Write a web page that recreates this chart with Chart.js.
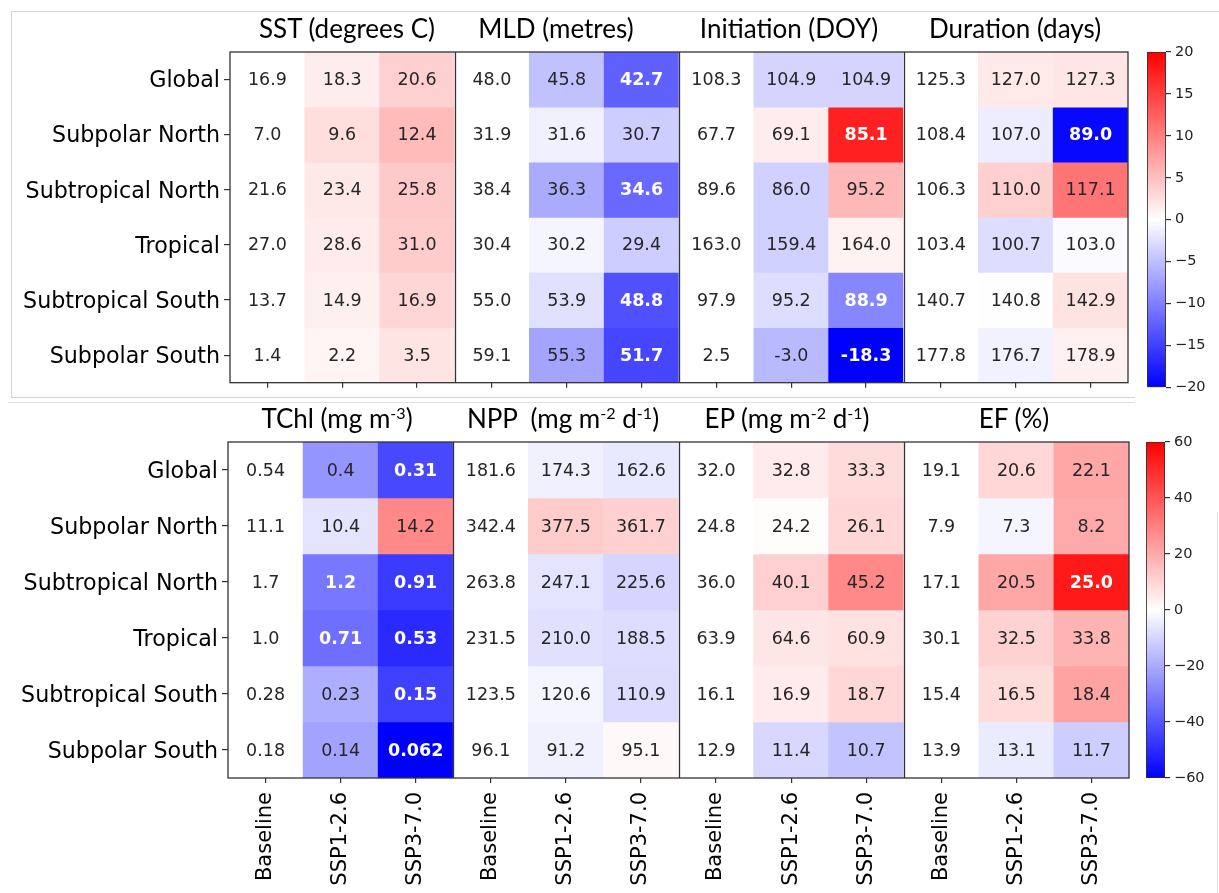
<!DOCTYPE html>
<html>
<head>
<meta charset="utf-8">
<script src="https://cdn.jsdelivr.net/npm/chart.js@4.4.1/dist/chart.umd.min.js"></script>
<style>
  body { margin: 0; background: #fff; width: 1219px; height: 893px; position: relative; overflow: hidden; }
  .box { position: absolute; }
  .title { position: absolute; font-family: Lato, "Open Sans", sans-serif; font-size: 26px; line-height: 30px; color: #000; transform: translateX(-50%); white-space: nowrap; }
  .title sup { font-size: 62%; line-height: 0; vertical-align: 0.55em; }
  .line { position: absolute; background: #d4d4d4; }
</style>
</head>
<body>
<div class="line" style="left:11px;top:11px;width:1208px;height:1px"></div>
<div class="line" style="left:11px;top:11px;width:1px;height:386px"></div>
<div class="line" style="left:11px;top:397px;width:1124px;height:1px"></div>
<div class="line" style="left:8px;top:402px;width:1127px;height:1px;background:#e0e0e0"></div>
<div class="line" style="left:1217px;top:512px;width:1px;height:381px;background:#e0e0e0"></div>

<div class="box" style="left:0;top:0;width:1140px;height:400px"><canvas id="top"></canvas></div>
<div class="box" style="left:1140px;top:0;width:79px;height:400px"><canvas id="topBar"></canvas></div>
<div class="box" style="left:0;top:390px;width:1140px;height:503px"><canvas id="bottom"></canvas></div>
<div class="box" style="left:1140px;top:390px;width:79px;height:503px"><canvas id="bottomBar"></canvas></div>

<div id="titles"></div>

<script>
const regions = ['Global', 'Subpolar North', 'Subtropical North', 'Tropical', 'Subtropical South', 'Subpolar South'];
const scenarios = ['Baseline', 'SSP1-2.6', 'SSP3-7.0'];

// top panel: values shown in the cells
const sst  = [[16.9, 18.3, 20.6], [7.0, 9.6, 12.4], [21.6, 23.4, 25.8], [27.0, 28.6, 31.0], [13.7, 14.9, 16.9], [1.4, 2.2, 3.5]];
const mld  = [[48.0, 45.8, 42.7], [31.9, 31.6, 30.7], [38.4, 36.3, 34.6], [30.4, 30.2, 29.4], [55.0, 53.9, 48.8], [59.1, 55.3, 51.7]];
const init = [[108.3, 104.9, 104.9], [67.7, 69.1, 85.1], [89.6, 86.0, 95.2], [163.0, 159.4, 164.0], [97.9, 95.2, 88.9], [2.5, -3.0, -18.3]];
const dur  = [[125.3, 127.0, 127.3], [108.4, 107.0, 89.0], [106.3, 110.0, 117.1], [103.4, 100.7, 103.0], [140.7, 140.8, 142.9], [177.8, 176.7, 178.9]];

// top panel: change from baseline (colour scale -20..20)
const sstChange  = [[0, 1.4, 3.7], [0, 2.6, 5.4], [0, 1.8, 4.2], [0, 1.6, 4.0], [0, 1.2, 3.2], [0, 0.8, 2.1]];
const mldChange  = [[0, -4.9, -12.5], [0, -1.2, -3.9], [0, -6.7, -11.8], [0, -0.8, -3.9], [0, -2.4, -13.7], [0, -7.1, -14.5]];
const initChange = [[0, -3.4, -3.4], [0, 1.4, 17.4], [0, -3.6, 5.6], [0, -3.6, 1.0], [0, -2.7, -9.5], [0, -5.5, -20.8]];
const durChange  = [[0, 1.7, 2.0], [0, -1.4, -19.4], [0, 3.7, 10.8], [0, -2.7, -0.4], [0, 0.1, 2.2], [0, -1.1, 1.1]];

// bottom panel: values shown in the cells
const tchl = [[0.54, 0.4, 0.31], [11.1, 10.4, 14.2], [1.7, 1.2, 0.91], [1.0, 0.71, 0.53], [0.28, 0.23, 0.15], [0.18, 0.14, 0.062]];
const npp  = [[181.6, 174.3, 162.6], [342.4, 377.5, 361.7], [263.8, 247.1, 225.6], [231.5, 210.0, 188.5], [123.5, 120.6, 110.9], [96.1, 91.2, 95.1]];
const ep   = [[32.0, 32.8, 33.3], [24.8, 24.2, 26.1], [36.0, 40.1, 45.2], [63.9, 64.6, 60.9], [16.1, 16.9, 18.7], [12.9, 11.4, 10.7]];
const ef   = [[19.1, 20.6, 22.1], [7.9, 7.3, 8.2], [17.1, 20.5, 25.0], [30.1, 32.5, 33.8], [15.4, 16.5, 18.4], [13.9, 13.1, 11.7]];

// bottom panel: % change from baseline (colour scale -60..60)
const tchlChange = [[0, -25, -43], [0, -6.4, 28], [0, -32, -46], [0, -34, -50], [0, -19, -45], [0, -22, -62]];
const nppChange  = [[0, -3.5, -5.5], [0, 12, 11], [0, -6.4, -10], [0, -7, -8], [0, -2.4, -8.2], [0, -3.5, 1.6]];
const epChange   = [[0, 4.7, 8.2], [0, 0.7, 9.4], [0, 11, 28], [0, 5.9, 7], [0, 4.7, 9.4], [0, -9.4, -14]];
const efChange   = [[0, 9.4, 21], [0, -2.4, 20], [0, 21, 54], [0, 10.6, 17.6], [0, 8.2, 22], [0, -4.7, -11.8]];

const topTitles = ['SST (degrees C)', 'MLD (metres)', 'Initiation (DOY)', 'Duration (days)'];
const bottomTitles = ['TChl (mg m<sup>-3</sup>)', 'NPP&nbsp; (mg m<sup>-2</sup> d<sup>-1</sup>)', 'EP (mg m<sup>-2</sup> d<sup>-1</sup>)', 'EF (%)'];

const oneDp = v => v.toFixed(1);
const chlFmt = v => v >= 1 ? v.toFixed(1) : String(v);

// blue-white-red, like matplotlib 'bwr'
function bwr(v, lim) {
    let t = Math.max(-1, Math.min(1, v / lim));
    if (t < 0) {
        let c = Math.round(255 * (1 + t));
        return [c, c, 255];
    }
    let c = Math.round(255 * (1 - t));
    return [255, c, c];
}

function luminance(rgb) {
    let lin = (x) => { x /= 255; return x <= 0.03928 ? x / 12.92 : Math.pow((x + 0.055) / 1.055, 2.4); };
    return 0.2126 * lin(rgb[0]) + 0.7152 * lin(rgb[1]) + 0.0722 * lin(rgb[2]);
}

const cellPlugin = {
    id: 'cells',
    afterDatasetsDraw(chart) {
        let { ctx, chartArea: a, scales: { x } } = chart;
        ctx.save();
        ctx.textAlign = 'center';
        ctx.textBaseline = 'middle';
        chart.data.datasets.forEach((ds, d) => {
            chart.getDatasetMeta(d).data.forEach((bar, i) => {
                let p = bar.getProps(['x', 'y', 'base'], true);
                let strong = luminance(ds.rgb[i]) < 0.32;
                ctx.font = (strong ? 'bold ' : '') + '17.5px "DejaVu Sans"';
                ctx.fillStyle = strong ? '#fff' : '#262626';
                ctx.fillText(ds.texts[i], p.x, (p.y + p.base) / 2 + 1);
            });
        });
        // lines between variable groups + frame
        ctx.strokeStyle = '#333';
        ctx.lineWidth = 1.3;
        for (let k = 3; k < chart.data.labels.length; k += 3) {
            let xs = Math.round((x.getPixelForValue(k - 1) + x.getPixelForValue(k)) / 2) + 0.5;
            ctx.beginPath();
            ctx.moveTo(xs, a.top);
            ctx.lineTo(xs, a.bottom);
            ctx.stroke();
        }
        ctx.strokeRect(a.left, a.top, a.width, a.height);
        ctx.restore();
    }
};

function heatmap(id, vars, changes, fmts, lim, o) {
    let labels = vars.flatMap(() => scenarios);
    let datasets = regions.map((name, r) => {
        let vals = vars.flatMap((v) => v[r]);
        let texts = vars.flatMap((v, k) => v[r].map(fmts[k]));
        let rgb = changes.flatMap((c) => c[r]).map((v) => bwr(v, lim));
        return {
            label: name,
            data: vals.map(() => [r, r + 1]),
            texts: texts,
            rgb: rgb,
            backgroundColor: rgb.map((c) => `rgb(${c[0]}, ${c[1]}, ${c[2]})`),
            borderWidth: 0,
            barPercentage: 1,
            categoryPercentage: 1,
            grouped: false
        };
    });
    return new Chart(document.getElementById(id), {
        type: 'bar',
        data: { labels: labels, datasets: datasets },
        options: {
            responsive: true,
            maintainAspectRatio: false,
            animation: false,
            layout: { padding: { top: 52, right: o.padRight, left: 0, bottom: 0 } },
            plugins: { legend: { display: false }, tooltip: { enabled: false } },
            scales: {
                x: {
                    grid: { display: true, offset: false, drawOnChartArea: false, drawTicks: true, tickLength: 5, color: '#333', lineWidth: 1.2 },
                    border: { display: false },
                    ticks: { display: o.showX, autoSkip: false, minRotation: 90, maxRotation: 90, padding: 9, color: '#000', font: { family: 'DejaVu Sans', size: 21 } },
                    afterFit: (s) => { s.height = o.xHeight; }
                },
                y: {
                    min: 0,
                    max: regions.length,
                    reverse: true,
                    afterBuildTicks: (s) => { s.ticks = regions.map((_, i) => ({ value: i + 0.5 })); },
                    grid: { display: true, drawOnChartArea: false, drawTicks: true, tickLength: 6, color: '#333', lineWidth: 1.2 },
                    border: { display: false },
                    ticks: { autoSkip: false, padding: 4, labelOffset: 2, color: '#000', font: { family: 'DejaVu Sans', size: 22.2 }, callback: (v) => regions[Math.floor(v)] },
                    afterFit: (s) => { s.width = o.yWidth; }
                }
            }
        },
        plugins: [cellPlugin]
    });
}

function colorbar(id, lim, step, o) {
    return new Chart(document.getElementById(id), {
        type: 'bar',
        data: {
            labels: [''],
            datasets: [{
                data: [[-lim, lim]],
                backgroundColor: (c) => {
                    let chart = c.chart;
                    if (!chart.chartArea) return 'transparent';
                    let y = chart.scales.y;
                    let g = chart.ctx.createLinearGradient(0, y.getPixelForValue(-lim), 0, y.getPixelForValue(lim));
                    g.addColorStop(0, 'rgb(0, 0, 255)');
                    g.addColorStop(0.5, 'rgb(255, 255, 255)');
                    g.addColorStop(1, 'rgb(255, 0, 0)');
                    return g;
                },
                borderColor: '#333',
                borderWidth: 1.2,
                borderSkipped: false,
                barPercentage: 1,
                categoryPercentage: 1
            }]
        },
        options: {
            responsive: true,
            maintainAspectRatio: false,
            animation: false,
            layout: { padding: { top: 52, left: o.padLeft, bottom: o.padBottom, right: 0 } },
            plugins: { legend: { display: false }, tooltip: { enabled: false } },
            scales: {
                x: { display: false },
                y: {
                    position: 'right',
                    min: -lim,
                    max: lim,
                    grid: { drawOnChartArea: false, tickLength: 5, color: '#333', lineWidth: 1.2 },
                    border: { display: false },
                    ticks: { stepSize: step, padding: 4, color: '#222', font: { family: 'DejaVu Sans', size: 14.5 }, callback: (v) => String(v).replace('-', '\u2212') },
                    afterFit: (s) => { s.width = o.yWidth; }
                }
            }
        }
    });
}

heatmap('top', [sst, mld, init, dur], [sstChange, mldChange, initChange, durChange], [oneDp, oneDp, oneDp, oneDp], 20,
    { yWidth: 230, xHeight: 12, padRight: 12, showX: false });
heatmap('bottom', [tchl, npp, ep, ef], [tchlChange, nppChange, epChange, efChange], [chlFmt, oneDp, oneDp, oneDp], 60,
    { yWidth: 228, xHeight: 115, padRight: 11, showX: true });
colorbar('topBar', 20, 5, { padLeft: 7, padBottom: 12, yWidth: 53 });
colorbar('bottomBar', 60, 20, { padLeft: 6, padBottom: 115, yWidth: 54 });

// titles above each variable block
const titleX = { top: [347, 556, 789, 1015], bottom: [337, 563, 787, 1014] };
let holder = document.getElementById('titles');
topTitles.forEach((t, i) => {
    holder.insertAdjacentHTML('beforeend', `<div class="title" style="left:${titleX.top[i]}px;top:13px">${t}</div>`);
});
bottomTitles.forEach((t, i) => {
    holder.insertAdjacentHTML('beforeend', `<div class="title" style="left:${titleX.bottom[i]}px;top:403px">${t}</div>`);
});
</script>
</body>
</html>
